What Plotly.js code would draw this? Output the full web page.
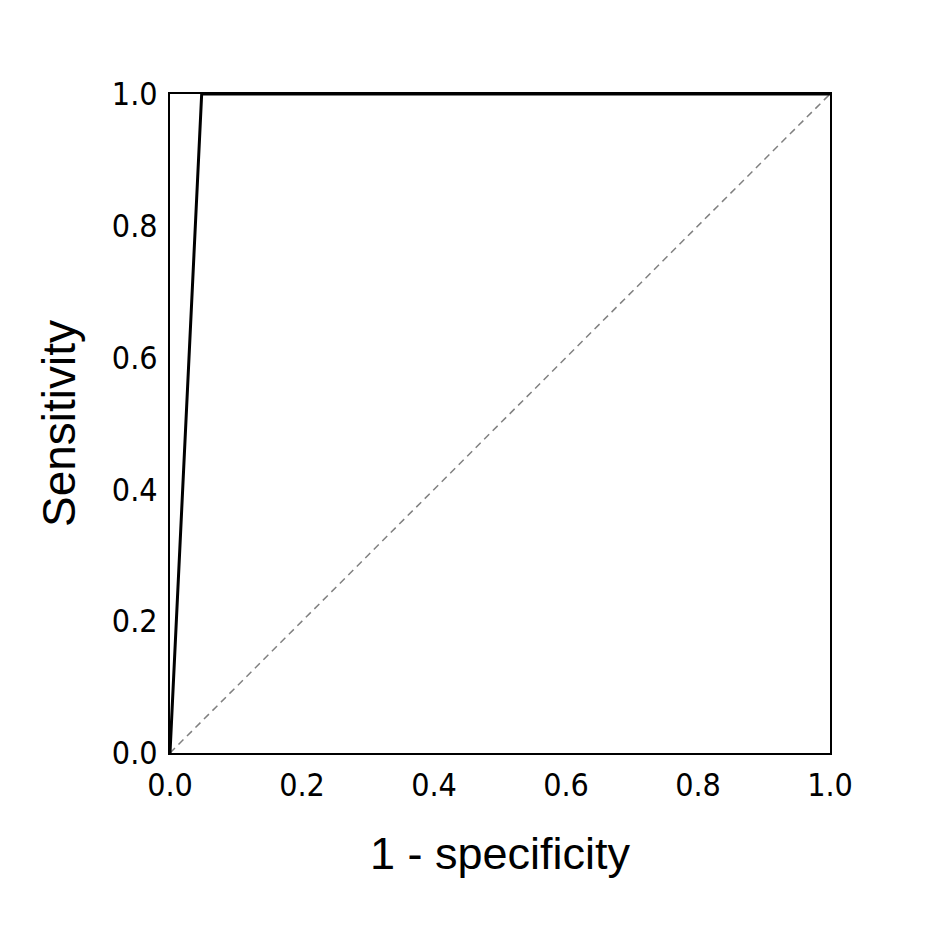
<!DOCTYPE html>
<html>
<head>
<meta charset="utf-8">
<script src="https://cdn.plot.ly/plotly-3.0.1.min.js"></script>
<style>html,body{margin:0;padding:0;background:#fff;}#chart{width:934px;height:932px;}</style>
</head>
<body>
<div id="chart"></div>
<script>
// ROC curve points
const fpr = [0.0, 0.048, 1.0];
const tpr = [0.0, 1.0, 1.0];
// chance diagonal
const refX = [0.0, 1.0];
const refY = [0.0, 1.0];
const tickVals = [0.0, 0.2, 0.4, 0.6, 0.8, 1.0];
const tickText = ["0.0", "0.2", "0.4", "0.6", "0.8", "1.0"];
const xLabel = "1 - specificity";
const yLabel = "Sensitivity";

const traces = [
  {x: refX, y: refY, mode: 'lines', line: {color: '#808080', width: 1.5, dash: '7px,5px'}, hoverinfo: 'skip'},
  {x: fpr, y: tpr, mode: 'lines', line: {color: '#000000', width: 3}}
];

const axisCommon = {
  range: [0, 1],
  tickvals: tickVals,
  ticktext: tickText,
  ticks: '',
  showgrid: false,
  zeroline: false,
  showline: true,
  linecolor: '#000',
  linewidth: 2,
  mirror: true,
  automargin: false,
  tickfont: {family: '"DejaVu Sans Condensed", "DejaVu Sans"', size: 32, color: '#000'}
};

const layout = {
  width: 934, height: 932,
  margin: {l: 170, r: 104, t: 94, b: 179},
  paper_bgcolor: '#fff', plot_bgcolor: '#fff',
  showlegend: false,
  xaxis: Object.assign({}, axisCommon, {
    ticklabelstandoff: 3,
    title: {text: xLabel, font: {family: 'Liberation Sans', size: 45, color: '#000'}, standoff: 34}
  }),
  yaxis: Object.assign({}, axisCommon, {
    ticklabelstandoff: 4,
    title: {text: yLabel, font: {family: 'Liberation Sans', size: 46, color: '#000'}, standoff: 22}
  })
};

Plotly.newPlot('chart', traces, layout, {displayModeBar: false, staticPlot: true});
</script>
</body>
</html>
